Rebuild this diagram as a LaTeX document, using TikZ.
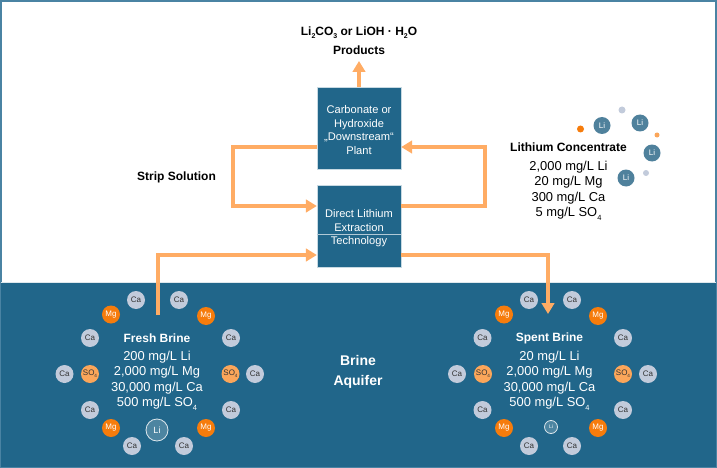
\documentclass[tikz,border=0pt]{standalone}
\usepackage{fontspec}
\usepackage{graphicx}
\setmainfont{Liberation Sans}
\usetikzlibrary{arrows.meta}
\definecolor{deep}{HTML}{21668A}
\definecolor{frameblue}{HTML}{4A83A3}
\definecolor{flowc}{HTML}{FFAC64}
\definecolor{mgc}{HTML}{F67C0C}
\definecolor{soc}{HTML}{FBA65A}
\definecolor{cac}{HTML}{C2CBDB}
\definecolor{lic}{HTML}{4F819C}
\newcommand{\sbs}[1]{\raisebox{-0.25em}{\scalebox{0.58}{#1}}}
\tikzset{
  x=1pt,y=-1pt,
  ion/.style={circle,inner sep=0pt,minimum size=18pt,font=\fontsize{8}{9}\selectfont},
  ca/.style={ion,fill=cac,text=black!80},
  mg/.style={ion,fill=mgc,text=white},
  so/.style={ion,fill=soc,text=black!80},
  lidot/.style={ion,fill=lic,text=white,minimum size=17pt},
  liring/.style={circle,inner sep=0pt,draw=white!85!deep,line width=0.8pt,fill=white!20!deep,text=white},
  dot/.style={circle,inner sep=0pt,minimum size=#1},
  plantbox/.style={fill=deep,draw=white!75!deep,line width=0.3pt,inner sep=0pt,minimum width=84pt,minimum height=82pt,
    text=white,align=center,font=\fontsize{11.1}{13.4}\selectfont},
  flow/.style={draw=flowc,line width=3.2pt,line join=miter},
  flowa/.style={flow,-{Triangle[length=11pt,width=12.5pt]}},
  head/.style={font=\fontsize{12}{15}\selectfont\bfseries,inner sep=0pt},
  vals/.style={font=\fontsize{12.9}{15.6}\selectfont,align=center,inner sep=0pt},
}
\begin{document}
\begin{tikzpicture}
\useasboundingbox (0,0) rectangle (717,468);
\fill[white] (0,0) rectangle (717,468);
\draw[frameblue,line width=2pt] (1,1) rectangle (716,467);
\fill[deep] (0,282) rectangle (717,468);
\draw[white!85!deep,line width=0.6pt] (0,282) -- (717,282);
\draw[frameblue,line width=1pt] (0.5,282) -- (0.5,467.5) -- (716.5,467.5) -- (716.5,282);

% boxes
\node[plantbox] (plant) at (359,128) {\rule{0pt}{12pt}Carbonate or\\Hydroxide\\„Downstream“\\Plant};
\node[plantbox] (dle) at (359,226.5) {\rule{0pt}{12pt}Direct Lithium\\Extraction\\Technology};
\draw[white!65!deep,line width=0.4pt] (dle.west |- 0,234) -- (dle.east |- 0,234);

% labels
\node[head,align=center,font=\fontsize{12}{18.5}\selectfont\bfseries] (prod) at (359,40.5) {Li\sbs{2}CO\sbs{3} or LiOH · H\sbs{2}O\\Products};
\node[head] (strip) at (176.5,177) {Strip Solution};
\node[head,text=white,align=center,font=\fontsize{14}{20}\selectfont\bfseries] (aquifer) at (358,372) {Brine\\Aquifer};

% connectors
\coordinate (top) at (359,61);
\coordinate (l1) at (233,147);
\coordinate (l2) at (233,206);
\coordinate (r1) at (485,147);
\coordinate (r2) at (485,206);
\coordinate (f1) at (158,315);
\coordinate (f2) at (158,255);
\coordinate (s1) at (548,255);
\coordinate (s2) at (548,314);
\draw[flowa] (plant.north) -- (top);
\draw[flowa] (plant.west |- l1) -- (l1) -- (l2) -- (dle.west |- l2);
\draw[flowa] (dle.east |- r2) -- (r2) -- (r1) -- (plant.east |- r1);
\draw[flowa] (f1) -- (f2) -- (dle.west |- f2);
\draw[flowa] (dle.east |- s1) -- (s1) -- (s2);

% fresh brine
\node[head,text=white] (fresh) at (157,338) {Fresh Brine};
\node[vals,text=white] (freshv) at (157,380.5) {200 mg/L Li\\2,000 mg/L Mg\\30,000 mg/L Ca\\500 mg/L SO\sbs{4}};
\node[ca] (fa) at (136,300) {Ca};
\node[ca] (fb) at (179,300) {Ca};
\node[mg] (fc) at (111,314.5) {Mg};
\node[mg] (fd) at (206,316) {Mg};
\node[ca] (fe) at (90,338) {Ca};
\node[ca] (ff) at (231,338) {Ca};
\node[ca] (fg) at (64.5,374) {Ca};
\node[so] (fh) at (90,374) {SO\sbs{4}};
\node[so] (fi) at (230.5,374) {SO\sbs{4}};
\node[ca] (fj) at (255,374) {Ca};
\node[ca] (fk) at (90,410) {Ca};
\node[ca] (fl) at (231,410) {Ca};
\node[mg] (fm) at (111,428) {Mg};
\node[mg] (fn) at (206,428) {Mg};
\node[liring,minimum size=22pt,font=\fontsize{9}{10}\selectfont] (fli) at (157,430) {Li};
\node[ca] (fo) at (132,446) {Ca};
\node[ca] (fp) at (184,446) {Ca};

% spent brine
\node[head,text=white] (spent) at (549.5,338) {Spent Brine};
\node[vals,text=white] (spentv) at (549.5,380.5) {20 mg/L Li\\2,000 mg/L Mg\\30,000 mg/L Ca\\500 mg/L SO\sbs{4}};
\node[ca] (sa) at (529,300) {Ca};
\node[ca] (sb) at (572,300) {Ca};
\node[mg] (sc) at (504,314.5) {Mg};
\node[mg] (sd) at (598,316) {Mg};
\node[ca] (se) at (482.5,338) {Ca};
\node[ca] (sf) at (623,338) {Ca};
\node[ca] (sg) at (457,374) {Ca};
\node[so] (sh) at (483,374) {SO\sbs{4}};
\node[so] (si) at (623,374) {SO\sbs{4}};
\node[ca] (sj) at (648,374) {Ca};
\node[ca] (sk) at (482.5,410) {Ca};
\node[ca] (sl) at (623,410) {Ca};
\node[mg] (sm) at (504,428) {Mg};
\node[mg] (sn) at (598,428) {Mg};
\node[liring,minimum size=13pt,font=\fontsize{5}{6}\selectfont] (sli) at (551,427) {Li};
\node[ca] (so1) at (529,446) {Ca};
\node[ca] (sp) at (572,446) {Ca};

% lithium concentrate
\node[head] (conc) at (568.5,147.5) {Lithium Concentrate};
\node[vals] (concv) at (568.5,190.5) {2,000 mg/L Li\\20 mg/L Mg\\300 mg/L Ca\\5 mg/L SO\sbs{4}};
\node[dot=7pt,fill=mgc] (d1) at (580.5,129) {};
\node[lidot] (l1n) at (602,125.5) {Li};
\node[dot=7pt,fill=cac] (d2) at (622,110) {};
\node[lidot] (l2n) at (640,123) {Li};
\node[dot=5pt,fill=soc] (d3) at (657,135) {};
\node[lidot] (l3n) at (652,153) {Li};
\node[dot=6pt,fill=cac] (d4) at (646,173) {};
\node[lidot] (l4n) at (626,178) {Li};
\end{tikzpicture}
\end{document}
